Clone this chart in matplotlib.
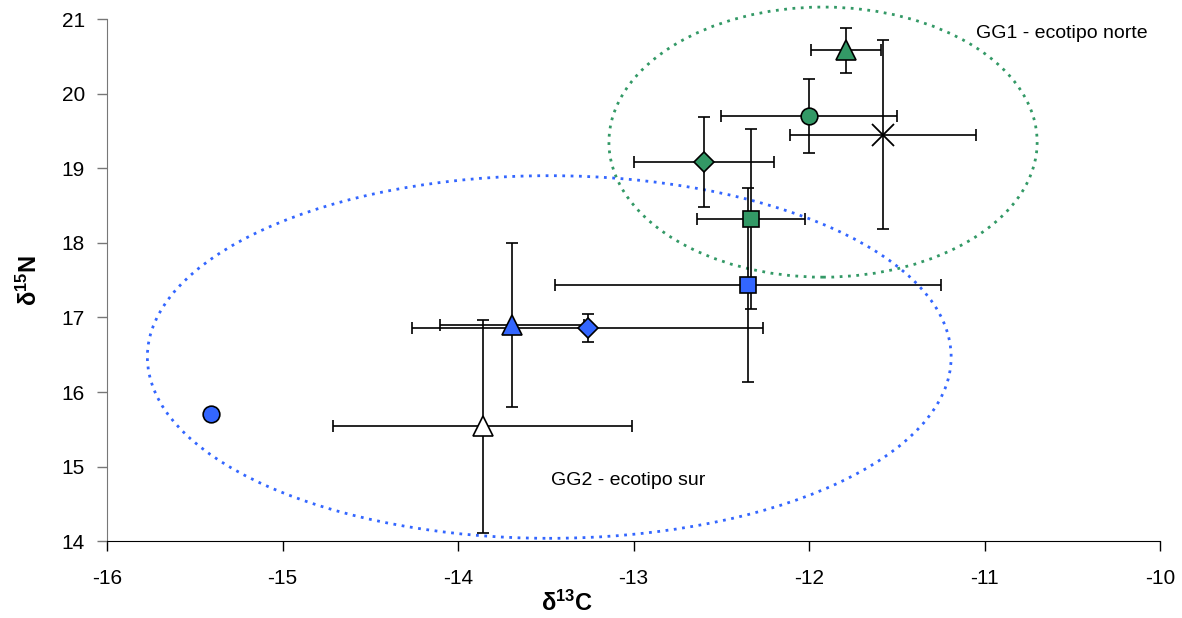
import matplotlib
matplotlib.use("Agg")
import matplotlib.pyplot as plt
from matplotlib.patches import Ellipse

plt.rcParams['font.family'] = ['Liberation Sans', 'DejaVu Sans']
plt.rcParams['mathtext.fontset'] = 'custom'
plt.rcParams['mathtext.rm'] = 'Liberation Sans'
plt.rcParams['mathtext.bf'] = 'Liberation Sans:bold'
plt.rcParams['mathtext.it'] = 'Liberation Sans:italic'
plt.rcParams['axes.unicode_minus'] = False

# Data: d13C (x), d15N (y), x-error, y-error
names   = ["G_tri", "G_circ", "X", "G_dia", "G_sq", "B_sq", "B_dia", "B_tri", "W_tri", "B_circ"]
x_vals  = [-11.79, -12.00, -11.58, -12.60, -12.33, -12.35, -13.26, -13.69, -13.86, -15.41]
y_vals  = [20.58, 19.70, 19.45, 19.08, 18.32, 17.43, 16.86, 16.90, 15.54, 15.71]
x_errs  = [0.20, 0.50, 0.53, 0.40, 0.31, 1.10, 1.00, 0.41, 0.85, 0.0]
y_errs  = [0.30, 0.50, 1.27, 0.60, 1.20, 1.30, 0.19, 1.10, 1.43, 0.0]
markers = ['^', 'o', 'x', 'D', 's', 's', 'D', '^', '^', 'o']
colors  = ['#339966', '#339966', 'black', '#339966', '#339966', '#3366FF', '#3366FF', '#3366FF', 'white', '#3366FF']
msizes  = [15, 12, 16, 10, 12, 12, 10, 15, 15, 12]

# Ellipses (center x, center y, width, height)
ell_green = (-11.92, 19.35, 2.44, 3.62)
ell_blue = (-13.48, 16.47, 4.58, 4.86)

fig = plt.figure(figsize=(11.82, 6.18), dpi=100)
ax = fig.add_axes([107 / 1182, 1 - 541.3 / 618, 1053 / 1182, 522.3 / 618])

for x, y, xe, ye, m, c, ms in zip(x_vals, y_vals, x_errs, y_errs, markers, colors, msizes):
    if xe > 0 or ye > 0:
        ax.errorbar(x, y, xerr=xe, yerr=ye, fmt='none', ecolor='black',
                    elinewidth=1.2, capsize=4, capthick=1.2, zorder=2)
    if m == 'x':
        ax.plot(x, y, marker='x', ms=ms, color='black', mew=1.3, ls='none', zorder=3)
    else:
        ax.plot(x, y, marker=m, ms=ms, mfc=c, mec='black', mew=1.2, ls='none', zorder=3)

for (cx, cy, w, h), col in [(ell_green, '#339966'), (ell_blue, '#3366FF')]:
    e = Ellipse((cx, cy), w, h, fill=False, edgecolor=col, linestyle=(0, (1, 2)),
                linewidth=2.0, zorder=1, clip_on=False)
    ax.add_patch(e)

ax.text(-11.05, 20.8, "GG1 - ecotipo norte", fontsize=14, va='center', ha='left')
ax.text(-13.47, 14.82, "GG2 - ecotipo sur", fontsize=14, va='center', ha='left')

ax.set_xlim(-16, -10)
ax.set_ylim(14, 21)
ax.set_xticks(range(-16, -9))
ax.set_yticks(range(14, 22))
ax.tick_params(direction='out', length=7, labelsize=15, width=1, colors='black')
ax.tick_params(axis='x', pad=13)
ax.tick_params(axis='y', pad=9, color='#777777')
for s in ['top', 'right']:
    ax.spines[s].set_visible(False)
ax.spines['left'].set_color('#777777')
ax.spines['bottom'].set_color('black')

ax.set_xlabel(r'$\mathbf{\delta}^{\mathbf{13}}\mathbf{C}$', fontsize=17)
ax.set_ylabel(r'$\mathbf{\delta}^{\mathbf{15}}\mathbf{N}$', fontsize=17)
ax.xaxis.set_label_coords(0.437, -0.094)
ax.yaxis.set_label_coords(-0.062, 0.5)

fig.savefig("out.png", dpi=100)
